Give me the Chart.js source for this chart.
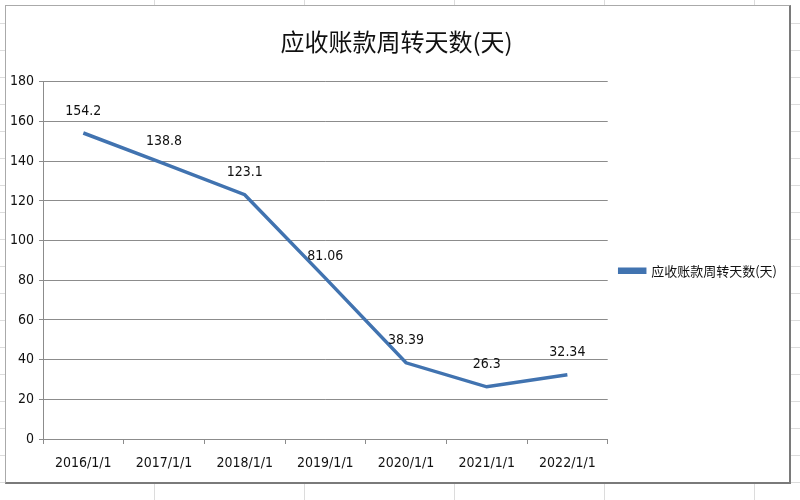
<!DOCTYPE html>
<html>
<head>
<meta charset="utf-8">
<script src="https://cdn.jsdelivr.net/npm/chart.js@4.4.1/dist/chart.umd.min.js"></script>
<style>
    html, body { margin: 0; padding: 0; }
    body {
        width: 800px; height: 500px; position: relative; overflow: hidden;
        background-color: #fff;
        background-image:
            repeating-linear-gradient(to right, transparent 0, transparent 149px, #dcdcdc 149px, #dcdcdc 150px),
            repeating-linear-gradient(to bottom, transparent 0, transparent 26px, #dcdcdc 26px, #dcdcdc 27px);
        background-position: 5px 0, 0 -3px;
    }
    #box {
        position: absolute; left: 5px; top: 5px; width: 783px; height: 476px;
        background: #fff; border-right: 2px solid #7a7a7a; border-bottom: 2px solid #7a7a7a;
        border-top: 1px solid #aaa; border-left: 1px solid #aaa;
    }
</style>
</head>
<body>
<div id="box"><canvas id="chartLine"></canvas></div>
<script>
// data
var categories = ["2016/1/1", "2017/1/1", "2018/1/1", "2019/1/1", "2020/1/1", "2021/1/1", "2022/1/1"];
var turnoverDays = [154.2, 138.8, 123.1, 81.06, 38.39, 26.3, 32.34];
var yTicks = [0, 20, 40, 60, 80, 100, 120, 140, 160, 180];
var seriesName = "应收账款周转天数(天)";
var chartTitle = "应收账款周转天数(天)";

var narrow = "'Liberation Sans Narrow', 'DejaVu Sans Condensed', 'Noto Sans CJK SC', sans-serif";
var cjk = "'Noto Sans CJK SC', sans-serif";

// value labels above each point
var pointLabels = {
    id: 'pointLabels',
    afterDatasetsDraw: function (chart) {
        var ctx = chart.ctx;
        var meta = chart.getDatasetMeta(0);
        ctx.save();
        ctx.font = "14px " + narrow;
        ctx.fillStyle = "#111";
        ctx.textAlign = "center";
        ctx.textBaseline = "middle";
        meta.data.forEach(function (pt, i) {
            ctx.fillText(String(turnoverDays[i]), pt.x, pt.y - 22);
        });
        ctx.restore();
    }
};

function lineChart() {
    var ctx = document.getElementById("chartLine").getContext('2d');
    var chart = new Chart(ctx, {
        type: 'line',
        data: {
            labels: categories,
            datasets: [{
                label: seriesName,
                data: turnoverDays,
                borderColor: "#4173b0",
                backgroundColor: "#4173b0",
                borderWidth: 3.5,
                pointRadius: 0,
                tension: 0
            }]
        },
        options: {
            responsive: true,
            maintainAspectRatio: false,
            animation: false,
            layout: {
                padding: { top: 0, right: 2, bottom: 0, left: 0 }
            },
            plugins: {
                title: {
                    display: true,
                    text: chartTitle,
                    color: "#111",
                    font: { family: cjk, size: 24, weight: 'normal' },
                    padding: { top: 21, bottom: 26 }
                },
                legend: {
                    position: 'right',
                    // empty legend title only pushes the entry down a bit
                    title: {
                        display: true,
                        text: ' ',
                        font: { size: 13 },
                        padding: { top: 19, bottom: 19 }
                    },
                    labels: {
                        color: "#111",
                        font: { family: cjk, size: 13 },
                        boxWidth: 25,
                        boxHeight: 3,
                        padding: 12
                    }
                },
                tooltip: { enabled: false }
            },
            scales: {
                x: {
                    offset: true,
                    afterFit: function (s) { s.height = 43; },
                    grid: {
                        offset: true,
                        drawOnChartArea: false,
                        drawTicks: true,
                        tickLength: 5,
                        color: "#8c8c8c"
                    },
                    border: { color: "#8c8c8c" },
                    ticks: {
                        color: "#111",
                        font: { family: narrow, size: 14 },
                        padding: 11,
                        maxRotation: 0
                    }
                },
                y: {
                    min: 0,
                    max: 180,
                    afterFit: function (s) { s.width = 37; },
                    afterBuildTicks: function (s) {
                        s.ticks = yTicks.map(function (v) { return { value: v }; });
                    },
                    grid: {
                        color: "#8c8c8c",
                        drawTicks: true,
                        tickLength: 4
                    },
                    border: { color: "#8c8c8c" },
                    ticks: {
                        color: "#111",
                        font: { family: narrow, size: 14 },
                        padding: 5
                    }
                }
            }
        },
        plugins: [pointLabels]
    });
    return chart;
}

lineChart();
</script>
</body>
</html>
